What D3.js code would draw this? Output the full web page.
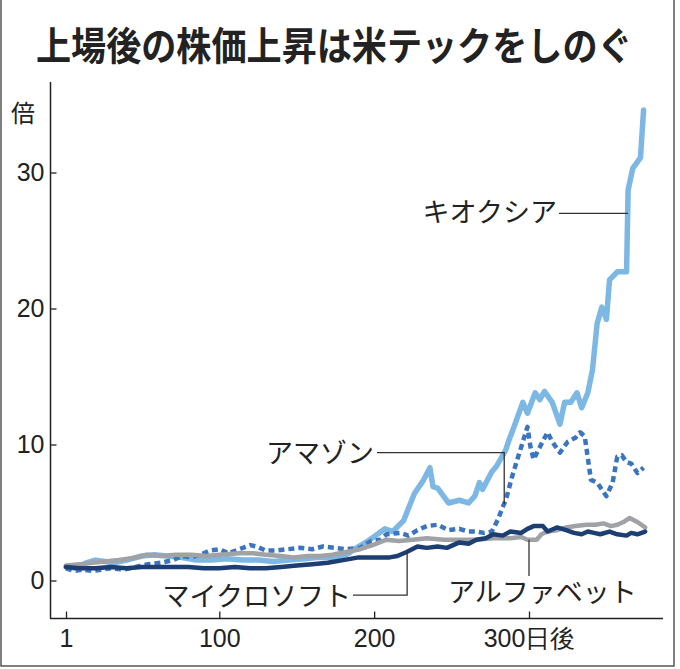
<!DOCTYPE html>
<html>
<head>
<meta charset="utf-8">
<script src="https://cdn.jsdelivr.net/npm/d3@7"></script>
<style>
  body { margin: 0; background: #fff; }
  svg { display: block; font-family: "Noto Sans CJK JP", "Noto Sans", sans-serif; }
  .tick text { font-size: 25px; fill: #222; }
  .tick line { stroke: #222; stroke-width: 1.3; }
  .title { font-size: 39px; font-weight: 700; fill: #222; }
  .lbl { font-size: 27px; fill: #222; }
  .leader { stroke: #333; stroke-width: 1.3; fill: none; }
</style>
</head>
<body>
<svg id="chart" width="680" height="669"></svg>
<script>
// Values: day after listing, multiple of the listing price
var kioxiaDays = [1,8,14,20,26,32,40,50,58,66,75,85,95,105,115,125,135,145,155,165,175,182,190,196,201,207,212,219,226,232,236,238,241,248,255,261,265,268,270,276,279,285,287,290,296,299,304,307,310,315,320,323,327,331,334,338,341,344,347,350,352,357,363,364,367,372,374];
var kioxiaValues = [1.0,0.9,1.3,1.5,1.4,1.3,1.5,1.8,1.9,1.8,1.7,1.5,1.5,1.6,1.5,1.5,1.4,1.5,1.6,1.7,1.7,1.9,2.5,2.9,3.3,3.8,3.6,4.4,6.4,7.4,8.3,6.9,6.8,5.7,5.9,5.7,6.2,7.2,6.7,8.0,8.4,9.6,10.3,11.2,13.1,12.3,13.8,13.3,13.9,13.1,11.5,13.1,13.1,13.8,12.7,13.8,15.5,18.9,20.1,19.2,22.1,22.7,22.7,28.7,30.3,31.1,34.6];

var amazonDays = [1,6,12,18,24,30,38,46,54,62,70,76,82,88,94,100,106,113,120,124,130,137,144,152,160,167,174,182,191,198,204,208,217,222,228,234,241,248,255,261,266,271,276,280,283,285,289,293,299,301,303,306,312,315,320,325,330,333,336,340,344,350,354,357,360,363,366,370,374];
var amazonValues = [0.9,0.7,0.8,0.7,0.8,0.9,0.8,1.0,1.2,1.3,1.5,1.8,1.7,1.9,2.2,2.3,2.0,2.3,2.6,2.5,2.2,2.2,2.3,2.4,2.3,2.5,2.4,2.3,2.4,2.9,3.0,3.4,3.5,3.3,3.7,4.0,4.1,3.7,3.8,3.6,3.6,3.5,3.6,4.5,5.4,5.9,7.6,9.1,11.3,9.8,8.9,9.6,10.9,10.2,9.4,10.2,10.5,10.9,10.6,7.4,7.2,6.2,7.2,9.1,9.2,8.7,8.6,7.9,8.3];

var msftDays = [1,10,20,30,40,50,60,70,80,90,100,110,120,130,140,150,160,170,180,190,198,205,210,215,221,228,234,241,247,255,261,266,272,277,283,288,295,299,303,309,312,318,324,329,334,338,342,346,352,357,363,366,370,375];
var msftValues = [1.0,0.9,0.9,1.0,0.9,1.0,1.0,1.0,1.0,0.9,0.9,1.0,0.9,0.9,1.0,1.1,1.2,1.3,1.5,1.7,1.7,1.7,1.7,1.8,2.1,2.5,2.4,2.5,2.4,2.8,2.7,3.0,3.1,3.4,3.3,3.6,3.5,3.8,4.0,4.0,3.6,3.9,3.7,3.5,3.4,3.6,3.5,3.4,3.6,3.4,3.3,3.5,3.4,3.6];

var googDays = [1,10,18,26,35,47,53,62,72,82,92,100,113,122,130,140,148,157,165,173,182,191,199,208,216,225,234,245,255,266,277,288,295,299,305,308,312,318,324,330,337,343,348,353,357,361,365,370,375];
var googValues = [1.1,1.2,1.3,1.4,1.5,1.7,1.9,1.8,1.9,1.9,1.8,1.9,2.0,2.0,1.9,1.8,1.7,1.8,1.8,1.9,2.1,2.3,2.6,3.0,2.9,3.0,3.1,3.0,3.0,3.0,3.1,3.1,3.2,3.0,3.0,3.4,3.6,3.7,3.9,4.0,4.1,4.1,4.2,4.0,4.1,4.3,4.6,4.3,3.9];

var xTicks = [1, 100, 200, 300];
var yTicks = [0, 10, 20, 30];
var titleText = '上場後の株価上昇は米テックをしのぐ';

var svg = d3.select('#chart');

// Scales
var x = d3.scaleLinear().domain([1, 300]).range([66, 529]);
var y = d3.scaleLinear().domain([0, 30]).range([580.5, 172.5]);

// Outer frame (left, right, bottom)
svg.append('path')
    .attr('d', 'M1,0 V666 H674 V0')
    .attr('fill', 'none')
    .attr('stroke', '#555')
    .attr('stroke-width', 1.5);

// Title, narrowed horizontally like the reference face
svg.append('text')
    .attr('class', 'title')
    .attr('transform', 'translate(36,60) scale(0.9,1)')
    .text(titleText);

// Unit label
svg.append('text')
    .attr('class', 'lbl')
    .attr('x', 23)
    .attr('y', 122)
    .attr('text-anchor', 'middle')
    .style('font-size', '24px')
    .text('倍');

// Axis lines
svg.append('line')
    .attr('x1', 50.5).attr('x2', 50.5)
    .attr('y1', 82).attr('y2', 618.5)
    .attr('stroke', '#222').attr('stroke-width', 1.5);
svg.append('line')
    .attr('x1', 50).attr('x2', 663)
    .attr('y1', 618.5).attr('y2', 618.5)
    .attr('stroke', '#222').attr('stroke-width', 1.5);

// Y axis ticks (inward)
var gy = svg.append('g')
    .attr('transform', 'translate(50.5,0)')
    .call(d3.axisLeft(y).tickValues(yTicks).tickSize(-6).tickPadding(6));
gy.select('.domain').remove();

// X axis ticks (inward)
var gx = svg.append('g')
    .attr('transform', 'translate(0,618.5)')
    .call(d3.axisBottom(x).tickValues(xTicks).tickSize(-7).tickPadding(11)
        .tickFormat(function(d){ return d === 300 ? '300日後' : d; }));
gx.select('.domain').remove();

// Lines
var line = d3.line()
    .x(function(d){ return x(d[0]); })
    .y(function(d){ return y(d[1]); });

var series = [
    {data: d3.zip(kioxiaDays, kioxiaValues), color: '#7db7e3', width: 5.5, dash: null},
    {data: d3.zip(amazonDays, amazonValues), color: '#3b75c0', width: 4.5, dash: '6 4'},
    {data: d3.zip(googDays, googValues), color: '#a0a2a5', width: 4.5, dash: null},
    {data: d3.zip(msftDays, msftValues), color: '#1c3e72', width: 4.5, dash: null}
];

series.forEach(function(s){
    svg.append('path')
        .datum(s.data)
        .attr('fill', 'none')
        .attr('stroke', s.color)
        .attr('stroke-width', s.width)
        .attr('stroke-linejoin', 'round')
        .attr('stroke-linecap', s.dash ? 'butt' : 'round')
        .attr('stroke-dasharray', s.dash)
        .attr('d', line);
});

// Labels with leader lines
function leader(points){
    svg.append('path')
        .attr('class', 'leader')
        .attr('d', d3.line()(points));
}

// キオクシア
svg.append('text').attr('class', 'lbl')
    .attr('x', 557).attr('y', 222).attr('text-anchor', 'end').text('キオクシア');
leader([[559, y(27)], [x(364), y(27)]]);

// アマゾン
svg.append('text').attr('class', 'lbl')
    .attr('x', 374).attr('y', 463).attr('text-anchor', 'end').text('アマゾン');
leader([[377, y(9.4)], [x(284), y(9.4)], [x(284), y(5.6)]]);

// マイクロソフト
svg.append('text').attr('class', 'lbl')
    .attr('x', 351).attr('y', 606).attr('text-anchor', 'end').text('マイクロソフト');
leader([[353, y(-1.07)], [x(221.3), y(-1.07)], [x(221.3), y(2.1)]]);

// アルファベット
svg.append('text').attr('class', 'lbl')
    .attr('x', 448).attr('y', 602).text('アルファベット');
leader([[x(300), y(3.0)], [x(300), y(0.33)]]);
</script>
</body>
</html>
